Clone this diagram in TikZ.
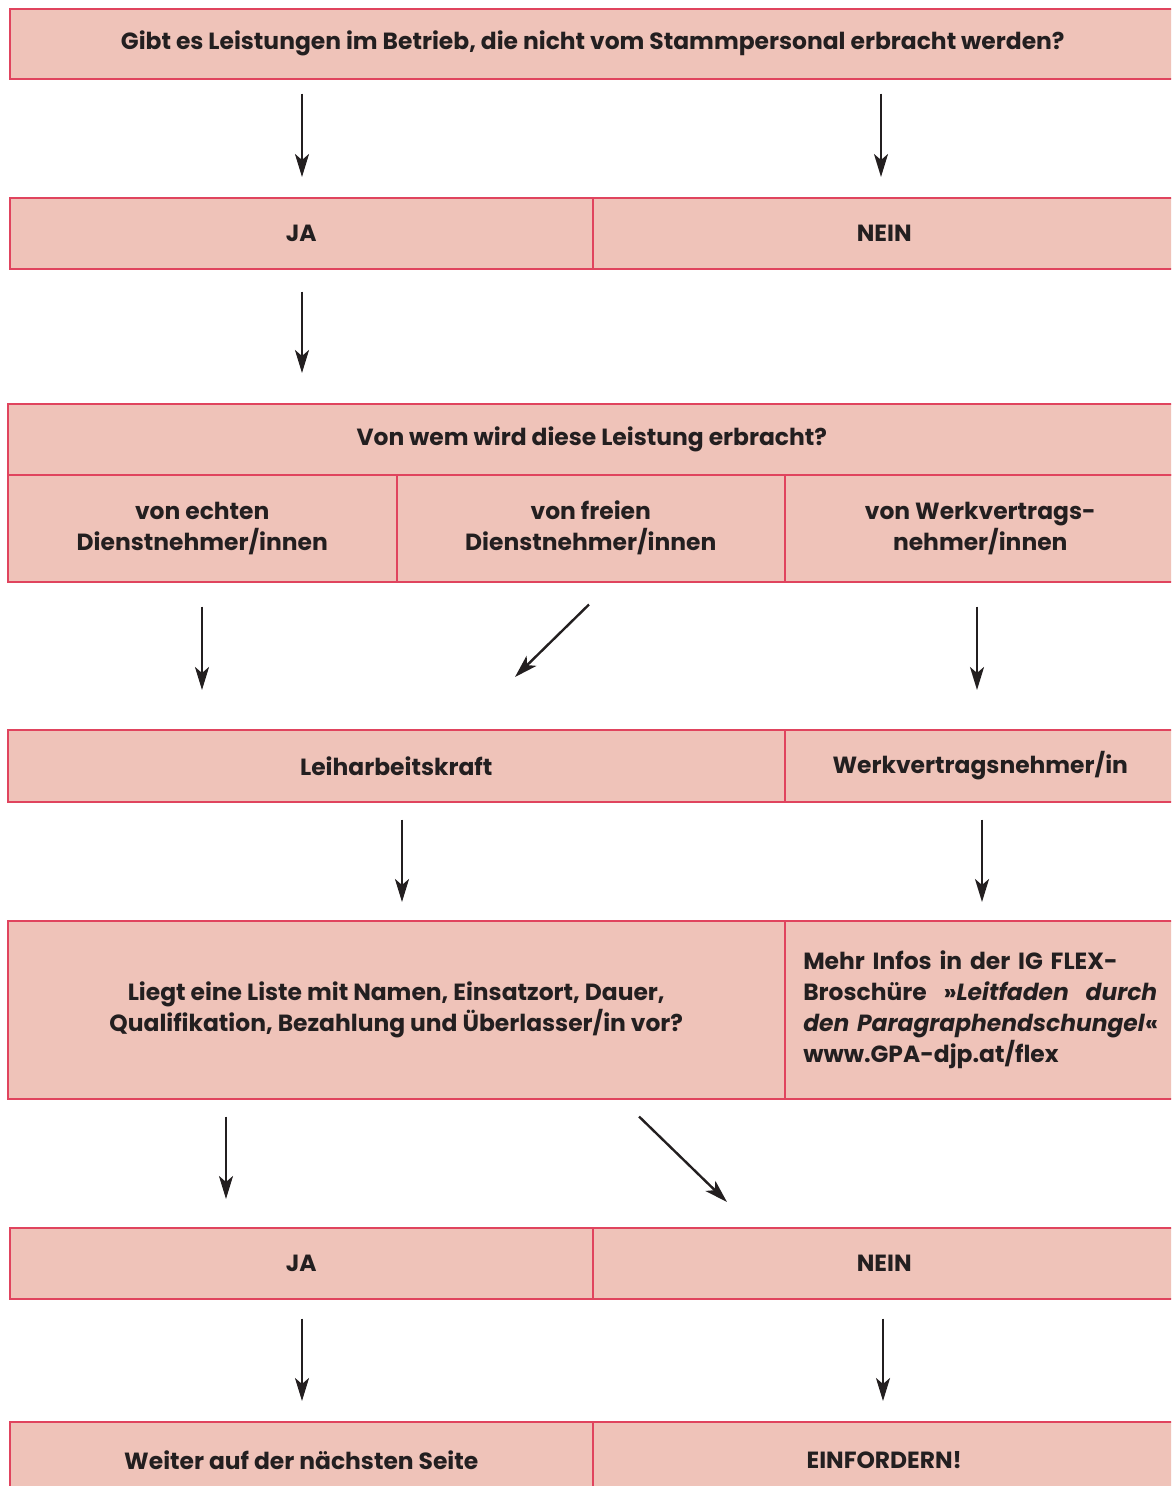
\documentclass[tikz,border=0pt]{standalone}
\usepackage{fontspec}
\setmainfont{Poppins}
\usetikzlibrary{arrows.meta,calc}
\definecolor{boxfill}{HTML}{EFC3B9}
\definecolor{boxline}{HTML}{E0445E}
\definecolor{txt}{HTML}{231F20}
\begin{document}
\begin{tikzpicture}[x=1pt,y=-1pt,
  box/.style={draw=boxline, fill=boxfill, line width=1.5pt, inner sep=0pt, anchor=north west,
    font=\fontsize{23.4}{31}\selectfont\bfseries, text=txt, align=center},
  arr/.style={-{Stealth[length=23pt,width=14pt,inset=6pt]}, line width=2.4pt, draw=txt}]
\useasboundingbox (0,0) rectangle (1171,1486);
\clip (0,0) rectangle (1171,1486);
\node[box, minimum width=1166pt, minimum height=70pt] (q1) at (9,8) {Gibt es Leistungen im Betrieb, die nicht vom Stammpersonal erbracht werden?};
\node[box, minimum width=583pt, minimum height=71pt] (ja1) at (9,197) {JA};
\node[box, minimum width=583pt, minimum height=71pt] (nein1) at (592,197) {NEIN};
\node[box, minimum width=1168pt, minimum height=71pt] (von) at (7,403) {Von wem wird diese Leistung erbracht?};
\node[box, minimum width=389pt, minimum height=107pt] (c1) at (7,474) {von echten\\Dienstnehmer/innen};
\node[box, minimum width=388pt, minimum height=107pt] (c2) at (396,474) {von freien\\Dienstnehmer/innen};
\node[box, minimum width=391pt, minimum height=107pt] (c3) at (784,474) {von Werkvertrags-\\nehmer/innen};
\node[box, minimum width=777pt, minimum height=72pt] (leih) at (7,729) {Leiharbeitskraft};
\node[box, minimum width=391pt, minimum height=72pt] (werk) at (784,729) {Werkvertragsnehmer/in};
\node[box, minimum width=777pt, minimum height=178pt] (liegt) at (7,920) {Liegt eine Liste mit Namen, Einsatzort, Dauer,\\Qualifikation, Bezahlung und Überlasser/in vor?};
\node[box, minimum width=391pt, minimum height=178pt, text width=354pt, align=left] (info) at (784,920) {\mbox{Mehr Infos in der IG FLEX-}\\\makebox[354pt][s]{Broschüre\hfill»\textit{Leitfaden}\hfill\textit{durch}}\\\mbox{\textit{den Paragraphendschungel}«}\\\mbox{www.GPA-djp.at/flex}};
\node[box, minimum width=583pt, minimum height=71pt] (ja2) at (9,1227) {JA};
\node[box, minimum width=583pt, minimum height=71pt] (nein2) at (592,1227) {NEIN};
\node[box, minimum width=583pt, minimum height=76pt] (weiter) at (9,1421) {Weiter auf der nächsten Seite};
\node[box, minimum width=583pt, minimum height=76pt] (einf) at (592,1421) {EINFORDERN!};
\draw[arr] ($(q1.south west)+(293,14)$) -- ($(ja1.north west)+(293,-20)$);
\draw[arr] ($(q1.south west)+(872,14)$) -- ($(nein1.north west)+(289,-20)$);
\draw[arr] ($(ja1.south west)+(293,22)$) -- ($(von.north west)+(295,-30)$);
\draw[arr] ($(c1.south west)+(195,24)$) -- ($(leih.north west)+(195,-39)$);
\draw[arr] ($(c2.south west)+(193,22)$) -- ($(leih.north west)+(508,-52)$);
\draw[arr] ($(c3.south west)+(193,24)$) -- ($(werk.north west)+(193,-39)$);
\draw[arr] ($(leih.south west)+(395,17)$) -- ($(liegt.north west)+(395,-18)$);
\draw[arr] ($(werk.south west)+(198,17)$) -- ($(info.north west)+(198,-18)$);
\draw[arr] ($(liegt.south west)+(219,17)$) -- ($(ja2.north west)+(217,-28)$);
\draw[arr] ($(liegt.south west)+(632,17)$) -- ($(nein2.north west)+(135,-25)$);
\draw[arr] ($(ja2.south west)+(293,19)$) -- ($(weiter.north west)+(293,-20)$);
\draw[arr] ($(nein2.south west)+(291,19)$) -- ($(einf.north west)+(291,-20)$);
\end{tikzpicture}
\end{document}
